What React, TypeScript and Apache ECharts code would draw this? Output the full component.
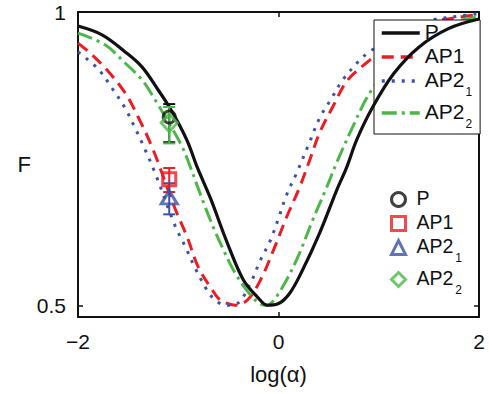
import React, { useEffect, useRef } from "react";
import * as echarts from "echarts";

// Curves (log(alpha) vs F)
const pX = [-2.0, -1.76, -1.53, -1.36, -1.2, -1.1, -1.0, -0.9, -0.81, -0.68, -0.51, -0.35, -0.21, -0.11, -0.01, 0.11, 0.24, 0.41, 0.58, 0.68, 0.78, 0.94, 1.15, 1.4, 1.7, 2.0];
const pF = [0.976, 0.961, 0.932, 0.906, 0.867, 0.841, 0.811, 0.776, 0.735, 0.683, 0.606, 0.543, 0.514, 0.5, 0.502, 0.52, 0.56, 0.623, 0.696, 0.735, 0.782, 0.838, 0.895, 0.94, 0.972, 0.988];

const ap1X = [-2.0, -1.88, -1.71, -1.53, -1.4, -1.25, -1.03, -0.91, -0.8, -0.66, -0.58, -0.43, -0.31, -0.18, -0.05, 0.08, 0.21, 0.31, 0.41, 0.54, 0.69, 0.91, 1.2, 1.5, 1.8, 2.0];
const ap1F = [0.947, 0.93, 0.901, 0.862, 0.821, 0.765, 0.664, 0.616, 0.565, 0.526, 0.509, 0.5, 0.509, 0.543, 0.594, 0.65, 0.701, 0.747, 0.794, 0.838, 0.884, 0.918, 0.96, 0.982, 0.991, 0.996];

const ap21X = [-2.0, -1.8, -1.66, -1.53, -1.43, -1.33, -1.23, -1.03, -0.93, -0.83, -0.71, -0.65, -0.53, -0.41, -0.28, -0.18, -0.08, 0.0, 0.08, 0.18, 0.31, 0.41, 0.53, 0.64, 0.81, 0.89, 1.2, 1.5, 1.8, 2.0];
const ap21F = [0.932, 0.903, 0.87, 0.836, 0.802, 0.765, 0.725, 0.635, 0.6, 0.563, 0.525, 0.512, 0.5, 0.503, 0.538, 0.577, 0.611, 0.648, 0.688, 0.725, 0.778, 0.819, 0.853, 0.884, 0.918, 0.93, 0.965, 0.985, 0.993, 0.997];

const ap22X = [-2.0, -1.73, -1.53, -1.36, -1.23, -1.08, -0.96, -0.9, -0.73, -0.63, -0.55, -0.45, -0.31, -0.2, -0.12, -0.05, 0.08, 0.21, 0.34, 0.48, 0.59, 0.74, 0.91, 1.15, 1.4, 1.7, 2.0];
const ap22F = [0.964, 0.944, 0.913, 0.884, 0.85, 0.807, 0.77, 0.745, 0.667, 0.625, 0.595, 0.56, 0.524, 0.504, 0.5, 0.508, 0.543, 0.589, 0.645, 0.701, 0.747, 0.804, 0.862, 0.915, 0.955, 0.98, 0.992];

// Measured points with error bars
const measX = -1.09;
const measF = [0.821, 0.715, 0.684, 0.811];
const measLow = [0.778, 0.693, 0.655, 0.776];
const measHigh = [0.843, 0.734, 0.708, 0.838];

const seriesNames = ["P", "AP1", "AP2_1", "AP2_2"];
const markerNames = ["mP", "mAP1", "mAP2_1", "mAP2_2"];
const xTicks = [-2, 0, 2];
const yTicks = [0.5, 1];

const COLORS = ["#111111", "#ed1c24", "#3a53a4", "#4cb748"];
const DASHES: any[] = ["solid", [12, 7], [3, 7], [15, 5, 3, 5]];
const SYMBOLS = ["circle", "rect", "triangle", "diamond"];
const SYMSIZES: any[] = [12, 13, [16, 13], [16, 18]];
const FONT = "'Liberation Sans', Arial, Helvetica, sans-serif";

const zip = (xs: number[], ys: number[]) => xs.map((x, i) => [x, ys[i]]);
const curves = [zip(pX, pF), zip(ap1X, ap1F), zip(ap21X, ap21F), zip(ap22X, ap22F)];

const fmtName = (name: string) => {
  const n = name.replace(/^m/, "");
  const m = n.match(/^(.*)_(\d)$/);
  return m ? `{n|${m[1]}}{sub|${m[2]}}` : `{n|${n}}`;
};

export default function App() {
  const ref = useRef<HTMLDivElement>(null);
  useEffect(() => {
    if (!ref.current) return;
    const chart = echarts.init(ref.current, null, { renderer: "svg" });

    const lineSeries = curves.map((d, i) => ({
      name: seriesNames[i],
      type: "line",
      data: d,
      smooth: 0.35,
      showSymbol: false,
      symbol: "none",
      z: 3 + (i === 0 ? 1 : 0),
      lineStyle: { color: COLORS[i], width: i === 0 ? 3.2 : 3, type: DASHES[i], cap: "butt" },
      itemStyle: { color: COLORS[i] },
    }));

    const errSeries = measF.map((_, i) => ({
      name: "err" + i,
      type: "custom",
      data: [[measX, measLow[i], measHigh[i]]],
      encode: { x: 0, y: [1, 2] },
      z: 5,
      renderItem: (params: any, api: any) => {
        const x = api.value(0);
        const lo = api.coord([x, api.value(1)]);
        const hi = api.coord([x, api.value(2)]);
        const w = 6;
        const style = { stroke: COLORS[i], lineWidth: 2 };
        return {
          type: "group",
          children: [
            { type: "line", shape: { x1: lo[0], y1: lo[1], x2: hi[0], y2: hi[1] }, style },
            { type: "line", shape: { x1: lo[0] - w, y1: lo[1], x2: lo[0] + w, y2: lo[1] }, style },
            { type: "line", shape: { x1: hi[0] - w, y1: hi[1], x2: hi[0] + w, y2: hi[1] }, style },
          ],
        };
      },
    }));

    const markerSeries = measF.map((f, i) => ({
      name: markerNames[i],
      type: "scatter",
      data: [[measX, f]],
      symbol: SYMBOLS[i],
      symbolSize: SYMSIZES[i],
      z: 6,
      itemStyle: { color: "rgba(255,255,255,0)", borderColor: COLORS[i], borderWidth: 3 },
    }));

    const richBig = {
      n: { fontSize: 21, lineHeight: 24, verticalAlign: "top", fontFamily: FONT, color: "#111" },
      sub: { fontSize: 12, lineHeight: 13, padding: [17, 0, 0, 1], verticalAlign: "top", fontFamily: FONT, color: "#111" },
    };
    const richSmall = {
      n: { fontSize: 19.5, lineHeight: 23, verticalAlign: "top", padding: [0, 0, 0, 6], fontFamily: FONT, color: "#111" },
      sub: { fontSize: 12, lineHeight: 12, padding: [16, 0, 0, 2], verticalAlign: "top", fontFamily: FONT, color: "#111" },
    };

    const axisLine = { show: true, onZero: false, lineStyle: { color: "#111", width: 2 } };
    const tickStyle = { color: "#111", width: 1.5 };

    chart.setOption({
      animation: false,
      backgroundColor: "#fff",
      textStyle: { fontFamily: FONT },
      grid: { left: 78, right: 10, top: 12, bottom: 77, show: false },
      xAxis: [
        {
          type: "value", min: -2, max: 2, interval: 2, position: "bottom",
          axisLine, splitLine: { show: false },
          axisTick: { show: true, inside: true, length: 5, lineStyle: tickStyle, customValues: xTicks },
          axisLabel: {
            fontSize: 21, color: "#111", margin: 14, fontFamily: FONT, customValues: xTicks,
            formatter: (v: number) => (v < 0 ? "\u2212" + Math.abs(v) : String(v)),
          },
          name: "log(\u03b1)", nameLocation: "middle", nameGap: 46,
          nameTextStyle: { fontSize: 22, color: "#111", fontFamily: FONT },
        },
        {
          type: "value", min: -2, max: 2, interval: 2, position: "top",
          axisLine, splitLine: { show: false },
          axisTick: { show: true, inside: true, length: 5, lineStyle: tickStyle, customValues: xTicks },
          axisLabel: { show: false },
        },
      ],
      yAxis: [
        {
          type: "value", min: 0.48, max: 1, position: "left",
          axisLine, splitLine: { show: false },
          axisTick: { show: true, inside: true, length: 5, lineStyle: tickStyle, customValues: yTicks },
          axisLabel: {
            fontSize: 21, color: "#111", margin: 12, fontFamily: FONT, customValues: yTicks,
            formatter: (v: number) => String(v),
          },
          name: "F", nameLocation: "middle", nameGap: 40, nameRotate: 0,
          nameTextStyle: { fontSize: 22, color: "#111", fontFamily: FONT, padding: [0, 0, 8, 0] },
        },
        {
          type: "value", min: 0.48, max: 1, position: "right",
          axisLine, splitLine: { show: false },
          axisTick: { show: true, inside: true, length: 5, lineStyle: tickStyle, customValues: yTicks },
          axisLabel: { show: false },
        },
      ],
      legend: [
        {
          data: seriesNames,
          orient: "vertical",
          left: 374,
          top: 20,
          padding: [1, 8, 4, 6],
          itemGap: 3,
          itemWidth: 38,
          itemHeight: 14,
          selectedMode: false,
          backgroundColor: "#fff",
          borderColor: "#111",
          borderWidth: 1,
          borderRadius: 0,
          itemStyle: { opacity: 0 },
          lineStyle: { width: 3.5 },
          formatter: fmtName,
          textStyle: { rich: richBig, fontSize: 21, color: "#111" },
        },
        {
          data: markerNames,
          orient: "vertical",
          left: 390,
          top: 188,
          padding: 0,
          itemGap: 4,
          itemWidth: 14,
          itemHeight: 14,
          selectedMode: false,
          itemStyle: { borderWidth: 3 },
          formatter: fmtName,
          textStyle: { rich: richSmall, fontSize: 19.5, color: "#111" },
        },
      ],
      series: [...lineSeries, ...errSeries, ...markerSeries],
    });
    return () => chart.dispose();
  }, []);

  return (
    <div
      ref={ref}
      style={{ position: "absolute", left: 0, top: 0, width: 489, height: 394, background: "#fff" }}
    />
  );
}
